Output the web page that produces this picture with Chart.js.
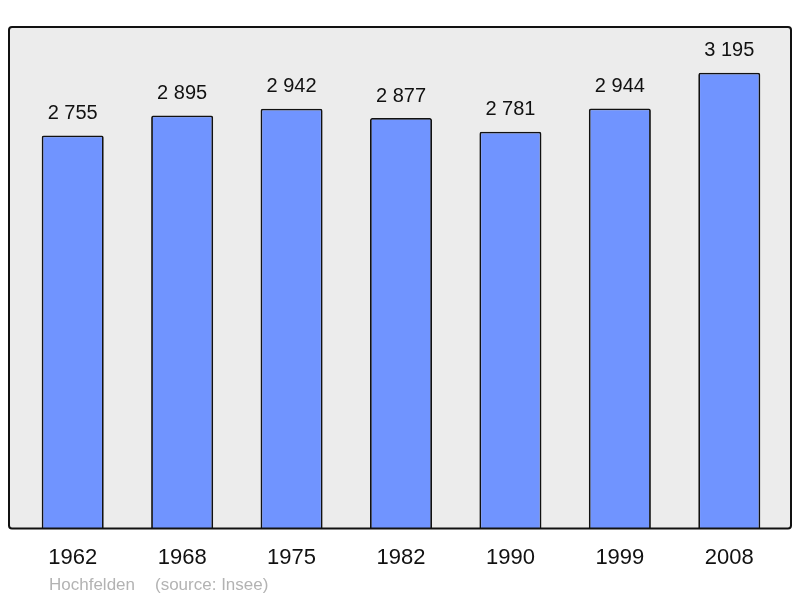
<!DOCTYPE html>
<html>
<head>
<meta charset="utf-8">
<script src="https://cdn.jsdelivr.net/npm/chart.js@4/dist/chart.umd.min.js"></script>
<style>
  html, body { margin: 0; padding: 0; background: #fff; }
  #wrap { width: 800px; height: 598px; }
</style>
</head>
<body>
<div id="wrap"><canvas id="popChart" width="800" height="598"></canvas></div>
<script>
const years = ['1962', '1968', '1975', '1982', '1990', '1999', '2008'];
const population = [2755, 2895, 2942, 2877, 2781, 2944, 3195];
const yMax = 3515;
const footerCommune = 'Hochfelden';
const footerSource = '(source: Insee)';

const fontFamily = '"Liberation Sans", Arial, sans-serif';

// fond gris + cadre arrondi autour de la zone du graphique
const framePlugin = {
    id: 'frame',
    beforeDatasetsDraw(chart) {
        const a = chart.chartArea;
        const ctx = chart.ctx;
        ctx.save();
        ctx.beginPath();
        ctx.roundRect(a.left - 9, a.top, a.right - a.left + 16, a.bottom - a.top, 3);
        ctx.fillStyle = '#ececec';
        ctx.fill();
        ctx.restore();
    },
    afterDatasetsDraw(chart) {
        const a = chart.chartArea;
        const ctx = chart.ctx;
        ctx.save();
        ctx.beginPath();
        ctx.roundRect(a.left - 9, a.top, a.right - a.left + 16, a.bottom - a.top, 3);
        ctx.lineWidth = 2;
        ctx.strokeStyle = '#111';
        ctx.stroke();

        // valeurs au-dessus des barres
        const meta = chart.getDatasetMeta(0);
        ctx.fillStyle = '#111';
        ctx.font = '20px ' + fontFamily;
        ctx.textAlign = 'center';
        ctx.textBaseline = 'middle';
        meta.data.forEach((bar, i) => {
            const txt = population[i].toString().replace(/\B(?=(\d{3})+(?!\d))/g, ' ');
            ctx.fillText(txt, bar.x, bar.y - 22);
        });

        // pied de page
        ctx.fillStyle = '#b3b3b3';
        ctx.font = '17px ' + fontFamily;
        ctx.textAlign = 'left';
        ctx.fillText(footerCommune, a.left + 31, 585);
        ctx.fillText(footerSource, a.left + 137, 585);
        ctx.restore();
    }
};

const ctx = document.getElementById('popChart').getContext('2d');
new Chart(ctx, {
    type: 'bar',
    data: {
        labels: years,
        datasets: [{
            data: population,
            backgroundColor: '#7094ff',
            borderColor: '#111',
            borderWidth: 1.8,
            borderSkipped: 'bottom',
            borderRadius: { topLeft: 2, topRight: 2, bottomLeft: 0, bottomRight: 0 },
            barPercentage: 0.567,
            categoryPercentage: 1
        }]
    },
    options: {
        responsive: false,
        animation: false,
        layout: { padding: { left: 18, right: 16, top: 27, bottom: 11 } },
        plugins: {
            legend: { display: false },
            tooltip: { enabled: false },
            title: { display: false }
        },
        scales: {
            x: {
                grid: { display: false, drawTicks: false },
                border: { display: false },
                ticks: {
                    color: '#111',
                    padding: 16,
                    font: { family: fontFamily, size: 22 }
                }
            },
            y: {
                display: false,
                min: 0,
                max: yMax
            }
        }
    },
    plugins: [framePlugin]
});
</script>
</body>
</html>
